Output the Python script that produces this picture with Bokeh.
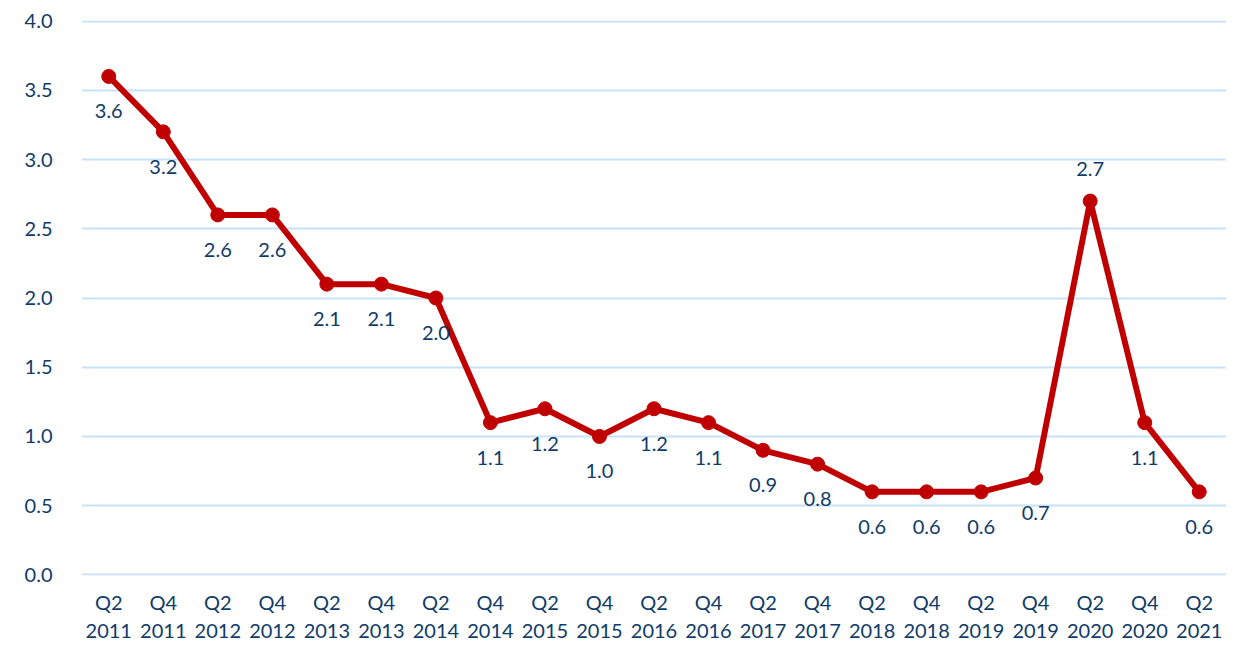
from bokeh.plotting import figure
from bokeh.models import ColumnDataSource, LabelSet, Range1d, SingleIntervalTicker, CustomJSTickFormatter
from bokeh.core.properties import value
from bokeh.embed import file_html
from bokeh.resources import INLINE

quarters = ["Q2", "Q4"] * 10 + ["Q2"]
years = ["2011", "2011", "2012", "2012", "2013", "2013", "2014", "2014", "2015", "2015",
         "2016", "2016", "2017", "2017", "2018", "2018", "2019", "2019", "2020", "2020", "2021"]
values = [3.6, 3.2, 2.6, 2.6, 2.1, 2.1, 2.0, 1.1, 1.2, 1.0,
          1.2, 1.1, 0.9, 0.8, 0.6, 0.6, 0.6, 0.7, 2.7, 1.1, 0.6]
label_above = [False] * 18 + [True, False, False]

cats = [f"{q}\n{y}" for q, y in zip(quarters, years)]
labels = [f"{v:.1f}" for v in values]

TEXT = "#0F3B68"
RED = "#C00000"
FONT = "Lato"
FS = "20px"

src_below = ColumnDataSource(dict(
    x=[c for c, a in zip(cats, label_above) if not a],
    y=[v for v, a in zip(values, label_above) if not a],
    t=[l for l, a in zip(labels, label_above) if not a]))
src_above = ColumnDataSource(dict(
    x=[c for c, a in zip(cats, label_above) if a],
    y=[v for v, a in zip(values, label_above) if a],
    t=[l for l, a in zip(labels, label_above) if a]))
src = ColumnDataSource(dict(x=cats, y=values))

p = figure(x_range=cats, y_range=Range1d(-0.004, 4.004), width=1226, height=645,
           output_backend="svg", toolbar_location=None,
           min_border_left=81, min_border_right=0, min_border_top=20, min_border_bottom=0)
p.outline_line_color = None
p.background_fill_color = "white"
p.border_fill_color = "white"
p.x_range.range_padding = 0

common = dict(text_color=TEXT, text_font_size=FS, text_align="center",
              text_font=value(FONT), level="glyph")
p.add_layout(LabelSet(x="x", y="y", text="t", source=src_below, y_offset=-35,
                      text_baseline="middle", **common))
p.add_layout(LabelSet(x="x", y="y", text="t", source=src_above, y_offset=32,
                      text_baseline="middle", **common))

p.line("x", "y", source=src, line_color=RED, line_width=6)
p.scatter("x", "y", source=src, size=14, fill_color=RED, line_color=RED)

p.xgrid.grid_line_color = None
p.ygrid.grid_line_color = "#C8E2F7"
p.ygrid.grid_line_width = 2
p.yaxis.ticker = SingleIntervalTicker(interval=0.5)
p.yaxis.formatter = CustomJSTickFormatter(code="return tick.toFixed(1);")

for ax in (p.xaxis, p.yaxis):
    ax.axis_line_color = None
    ax.major_tick_line_color = None
    ax.minor_tick_line_color = None
    ax.major_label_text_color = TEXT
    ax.major_label_text_font_size = FS
    ax.major_label_text_font = FONT
p.yaxis.major_label_standoff = 23
p.xaxis.major_label_standoff = 8

open("out.html", "w").write(file_html(p, INLINE))
